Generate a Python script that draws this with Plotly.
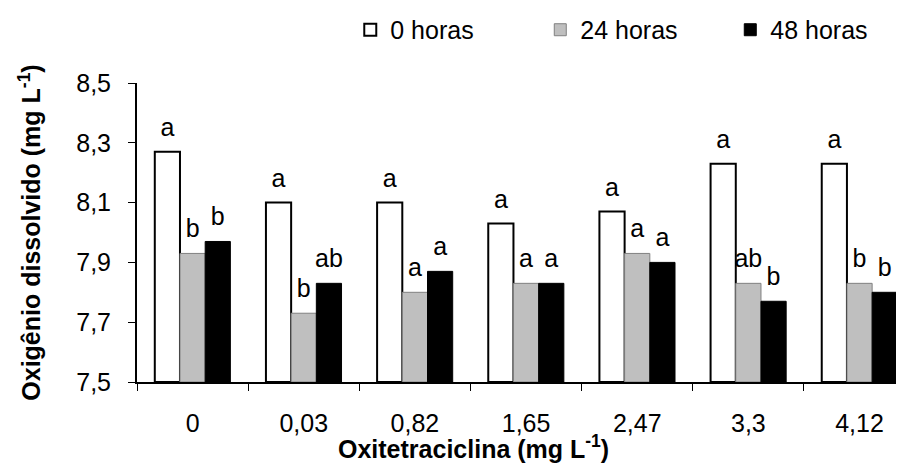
import plotly.graph_objects as go

categories = ["0", "0,03", "0,82", "1,65", "2,47", "3,3", "4,12"]
series_names = ["0 horas", "24 horas", "48 horas"]
vals_0h = [8.27, 8.10, 8.10, 8.03, 8.07, 8.23, 8.23]
vals_24h = [7.93, 7.73, 7.80, 7.83, 7.93, 7.83, 7.83]
vals_48h = [7.97, 7.83, 7.87, 7.83, 7.90, 7.77, 7.80]
letters_0h = ["a", "a", "a", "a", "a", "a", "a"]
letters_24h = ["b", "b", "a", "a", "a", "ab", "b"]
letters_48h = ["b", "ab", "a", "a", "a", "b", "b"]
y_ticks = [7.5, 7.7, 7.9, 8.1, 8.3, 8.5]

FONT = "Liberation Sans, Arial, sans-serif"
FS = 25

styles = [
    dict(color="white", line=dict(color="black", width=2)),
    dict(color="#bfbfbf", line=dict(color="#808080", width=1)),
    dict(color="black", line=dict(color="black", width=1)),
]

fig = go.Figure()
for i, (name, vals, st) in enumerate(zip(series_names, [vals_0h, vals_24h, vals_48h], styles)):
    fig.add_trace(go.Bar(
        x=categories, y=[v - 7.5 for v in vals], base=7.5, name=name,
        marker=st, offsetgroup=str(i), alignmentgroup="g", hoverinfo="skip",
    ))
for i, (vals, letters) in enumerate(zip([vals_0h, vals_24h, vals_48h],
                                        [letters_0h, letters_24h, letters_48h])):
    fig.add_trace(go.Scatter(
        x=categories, y=vals, mode="markers+text", text=letters,
        textposition="top center", offsetgroup=str(i), alignmentgroup="g",
        marker=dict(size=14, color="rgba(0,0,0,0)"),
        textfont=dict(family=FONT, size=FS, color="black"),
        showlegend=False, cliponaxis=False, hoverinfo="skip",
    ))

# page body has an 8px default margin, so the figure is 8px smaller
fig.update_layout(
    width=896, height=458,
    margin=dict(l=129, r=0, t=75, b=84, autoexpand=False),
    paper_bgcolor="white", plot_bgcolor="white",
    barmode="group", bargap=0.32, bargroupgap=0,
    scattermode="group", scattergap=0.32,
    separators=",.",
    font=dict(family=FONT, size=FS, color="black"),
    legend=dict(orientation="h", xref="container", yref="container",
                x=0.382, y=0.952, xanchor="left", yanchor="middle",
                font=dict(size=FS), entrywidth=145, entrywidthmode="pixels",
                itemclick=False, traceorder="normal"),
    showlegend=True,
    annotations=[dict(text="<b>Oxitetraciclina (mg L<sup>-1</sup>)</b>",
                      xref="paper", yref="paper", x=0.439, y=-0.217,
                      xanchor="center", yanchor="middle", showarrow=False,
                      font=dict(family=FONT, size=FS, color="black"))],
)
fig.update_xaxes(
    type="category", range=[-0.5, 6.4], showline=True, linecolor="black", linewidth=2,
    ticks="outside", tickson="boundaries", ticklen=7, tickwidth=1, tickcolor="black",
    ticklabelstandoff=18, showgrid=False, zeroline=False, automargin=False,
)
fig.update_yaxes(
    range=[7.5, 8.5], tickvals=y_ticks, tickformat=".1f", showline=True,
    linecolor="black", linewidth=2, ticks="outside", ticklen=7, tickwidth=1,
    tickcolor="black", showgrid=False, zeroline=False, automargin=False,
    ticklabelstandoff=12,
    title=dict(text="<b>Oxigênio dissolvido (mg L<sup>-1</sup>)</b>", font=dict(size=FS), standoff=28),
)

fig.write_html("out.html")
